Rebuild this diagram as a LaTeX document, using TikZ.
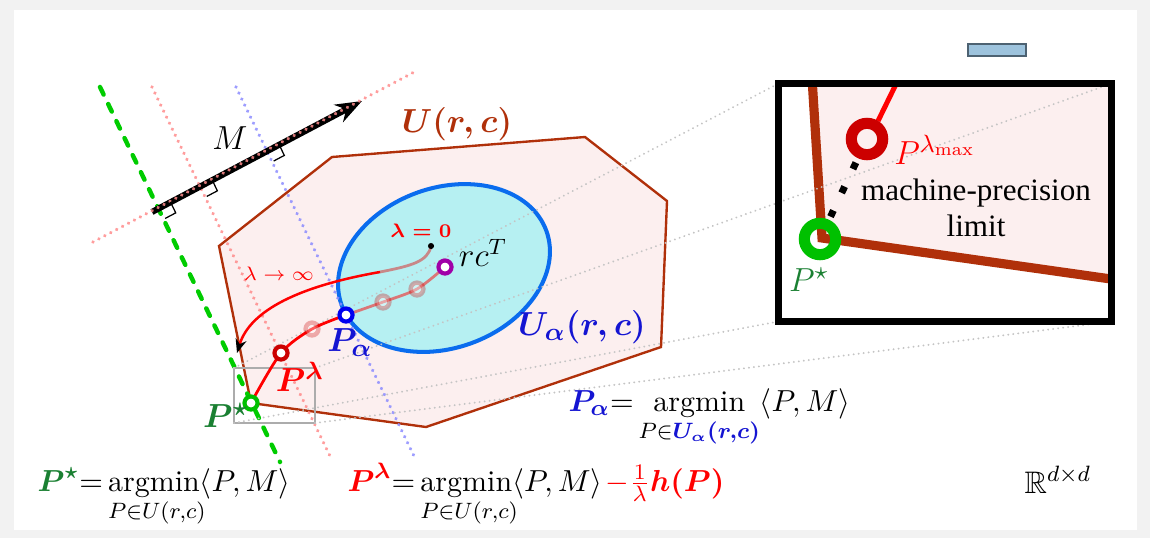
\documentclass[tikz,border=0pt]{standalone}
\usepackage{amsmath,amssymb,mathtools}
\usepackage{fontspec}
\newfontfamily\tnr{Liberation Serif}
\usetikzlibrary{arrows.meta,calc}
\newcommand{\argminl}[1]{\mathop{\mathrm{argmin}}\limits_{\mathrlap{#1}\hphantom{\textstyle\mathrm{argmin}}}}
\definecolor{polyedge}{HTML}{B0300A}
\definecolor{polyfill}{HTML}{FCEFEF}
\definecolor{ellfill}{HTML}{B6F0F2}
\definecolor{elledge}{HTML}{0A6CEE}
\definecolor{dgreen}{HTML}{1A8032}
\definecolor{bgreen}{HTML}{00C000}
\definecolor{dashgreen}{HTML}{00CC00}
\definecolor{dred}{HTML}{CC0000}
\definecolor{lblue}{HTML}{1414D2}
\definecolor{ringblue}{HTML}{0000F0}
\definecolor{purp}{HTML}{A000A8}
\definecolor{boxfill}{HTML}{9DC3DD}
\definecolor{boxedge}{HTML}{4D6272}
\definecolor{bggrey}{HTML}{F2F2F2}
\definecolor{zoomgrey}{HTML}{C4C4C4}
\definecolor{faderd}{HTML}{C88888}
\begin{document}
\begin{tikzpicture}[x=0.36pt,y=-0.36pt,
  pinkdot/.style={draw=red!45, line width=1.3pt, dash pattern=on 0.01pt off 2.4pt, line cap=round, opacity=0.85},
  bluedot/.style={draw=blue!45, line width=1.3pt, dash pattern=on 0.01pt off 2.4pt, line cap=round, opacity=0.85},
  greydot/.style={draw=zoomgrey, line width=0.75pt, dash pattern=on 0.01pt off 1.8pt, line cap=round},
  greendash/.style={draw=dashgreen, line width=1.6pt, dash pattern=on 3pt off 3.8pt, line cap=round},
  ring/.style={circle, draw=#1, line width=1.5pt, fill=white, minimum size=4.7pt, inner sep=0pt},
  fadering/.style={circle, draw=dred, draw opacity=0.3, line width=1.6pt, fill=white, fill opacity=0.35, minimum size=4.6pt, inner sep=0pt},
  bigring/.style={circle, draw=#1, line width=4pt, minimum size=11.3pt, inner sep=0pt},
  dotline/.style={draw=black, line width=2.5pt, dash pattern=on 2.52pt off 7pt, shorten <=9.4pt, shorten >=8.9pt},
  rmark/.style={draw=black, line width=0.45pt},
  lbl/.style={inner sep=0pt, font=\fontsize{12.5}{14}\selectfont},
  frm/.style={inner sep=0pt, anchor=base west, font=\fontsize{10.8}{13}\selectfont},
  smalllbl/.style={inner sep=0pt, text=red, font=\fontsize{7}{8}\selectfont}
]
\useasboundingbox (0,0) rectangle (1150,544);
\fill[bggrey] (0,0) rectangle (1150,538);
\fill[white] (14,10) rectangle (1137,530);
% small tab
\filldraw[fill=boxfill, draw=boxedge, line width=0.9pt] (968,44) rectangle (1026,56);

% ---------- inset content ----------
\coordinate (iTL) at (778.5,83.5);
\coordinate (iTR) at (1111.5,83.5);
\coordinate (iBL) at (778.5,321.5);
\coordinate (iBR) at (1111.5,321.5);
\begin{scope}
  \clip (iTL) rectangle (iBR);
  \fill[white] (iTL) rectangle (iBR);
  \fill[polyfill] (812,78) -- (1118,78) -- (1118,280) -- (822,238) -- cycle;
  \draw[polyedge, line width=3.3pt] (812,78) -- (822,238) -- (1118,280);
  \draw[red, line width=1.8pt] (878,121) -- (899,78);
\end{scope}
\coordinate (ilam) at (867,139);
\coordinate (istar) at (820,239);
\draw[dotline] (ilam) -- (istar);
\node[bigring=dred] (Plmax) at (ilam) {};
\node[bigring=bgreen] (Pstarz) at (istar) {};

% ---------- polygon and ellipse ----------
\filldraw[fill=polyfill, draw=polyedge, line width=0.85pt, line join=miter]
  (219,246) -- (332,157) -- (585,137) -- (667,201) -- (661,347) -- (426,427) -- (251,403) -- cycle;
\filldraw[fill=ellfill, draw=elledge, line width=1.45pt, rotate around={20:(444,268)}]
  (444,268) ellipse [x radius=39.2pt, y radius=28.8pt];

% ---------- level lines ----------
\coordinate (g1) at (100,87);  \coordinate (g2) at (280,462);
\coordinate (r1) at (152,87);  \coordinate (r2) at (330,456);
\coordinate (b1) at (236,87);  \coordinate (b2) at (414,456);
\coordinate (m1) at (93,242);  \coordinate (m2) at (418,70);
\draw[pinkdot] (r1) -- (r2);
\draw[bluedot] (b1) -- (b2);
\draw[greendash] (g1) -- (g2);

% ---------- zoom box and connectors ----------
\coordinate (zTL) at (234,368);
\coordinate (zTR) at (315,368);
\coordinate (zBL) at (234,423);
\coordinate (zBR) at (315,423);
\draw[draw=gray!65, line width=0.7pt] (zTL) rectangle (zBR);
\draw[greydot] (zTL) -- (iTL);
\draw[greydot] (zTR) -- (iTR);
\draw[greydot] (zBL) -- (iBL);
\draw[greydot] (zBR) -- (iBR);
\draw[line width=2.5pt] (iTL) rectangle (iBR);

% ---------- paths ----------
\coordinate (rc) at (445,267);
\coordinate (f1) at (417,289);
\coordinate (f2) at (383,302);
\coordinate (pa) at (346,315);
\coordinate (f3) at (312,329);
\coordinate (pl) at (281,353);
\coordinate (ps) at (251,403);
\coordinate (l0) at (431,246);
\coordinate (lm) at (380,272);
\coordinate (linf) at (237,353);
\draw[red, line width=1pt, opacity=0.5] plot[smooth] coordinates {(rc) (f1) (f2) (pa)};
\draw[red, line width=1pt] plot[smooth] coordinates {(pa) (f3) (pl) (ps)};
\draw[faderd, line width=1pt] (l0) .. controls (428,262) and (410,266) .. (lm);
\draw[red, line width=0.9pt, -{Stealth[black,length=5pt,width=4pt]}] (lm) .. controls (300,286) and (250,310) .. (linf);
\fill (l0) circle[radius=1.1pt];
\node[fadering] (F1) at (f1) {};
\node[fadering] (F2) at (f2) {};
\node[fadering] (F3) at (f3) {};
\node[ring=purp] (RC) at (rc) {};
\node[ring=ringblue] (PA) at (pa) {};
\node[ring=dred] (PL) at (pl) {};
\node[ring=bgreen] (PS) at (ps) {};

% ---------- M arrow and right angles ----------
\coordinate (ms) at (152,212);
\coordinate (me) at (362,101);
\draw[line width=2.2pt, -{Stealth[length=9.5pt,width=7pt]}] (ms) -- (me);
\draw[pinkdot] (m1) -- (m2);
\coordinate (Ig) at (intersection of g1--g2 and m1--m2);
\coordinate (Ir) at (intersection of r1--r2 and m1--m2);
\coordinate (Ib) at (intersection of b1--b2 and m1--m2);
\foreach \I in {Ig,Ir,Ib}{
  \draw[rmark] ($(\I)+(12.6,-5.6)$) -- ++(5.2,10.8) -- ++(-10.6,5.6);
}

% ---------- labels ----------
\node[lbl, text=dgreen] (tPs) at (226,416) {$\boldsymbol{P^{\star}}$};
\node[lbl, text=red] (tPl) at (300,377) {$\boldsymbol{P^{\lambda}}$};
\node[lbl, text=lblue] (tPa) at (350,343) {$\boldsymbol{P_{\alpha}}$};
\node[lbl, text=lblue] (tUa) at (582,327) {$\boldsymbol{U_{\alpha}(r,c)}$};
\node[lbl, text=polyedge] (tU) at (457,124) {$\boldsymbol{U(r,c)}$};
\node[lbl, font=\fontsize{11.5}{13}\selectfont] (tM) at (230,138) {$M$};
\node[lbl, font=\fontsize{11.5}{13}\selectfont] (trc) at (483,253) {$rc^{T}$};
\node[smalllbl] (tl0) at (421,231) {$\boldsymbol{\lambda=0}$};
\node[smalllbl] (tli) at (279,274) {$\lambda\to\infty$};

% inset labels
\node[lbl, text=red, font=\fontsize{13}{15}\selectfont] (tlmax) at (935,150) {$P^{\lambda_{\max}}$};
\node[lbl, text=dgreen] (tPsz) at (809,280) {$P^{\star}$};
\node[inner sep=0pt, align=center, font=\tnr\fontsize{11.2}{13}\selectfont] (mpl) at (976,208) {machine-precision\\limit};

% ---------- formulas ----------
\node[frm] (fstar) at (37,491) {$\displaystyle{\color{dgreen}\boldsymbol{P^{\star}}}{=}\argminl{P\in U(r,c)}\langle P,M\rangle$};
\node[frm] (flam) at (347,491) {$\displaystyle{\color{red}\boldsymbol{P^{\lambda}}}{=}\argminl{P\in U(r,c)}\langle P,M\rangle{\color{red}\mskip2mu{-}\tfrac{1}{\lambda}\boldsymbol{h(P)}}$};
\node[frm] (falp) at (568,411) {$\displaystyle{\color{lblue}\boldsymbol{P_{\alpha}}}{=}\operatorname*{argmin}_{P\in{\color{lblue}\boldsymbol{U_{\alpha}(r,c)}}}\langle P,M\rangle$};
\node[frm, font=\fontsize{11.2}{13}\selectfont] (fR) at (1024,493) {$\mathbb{R}^{d\times d}$};
\end{tikzpicture}
\end{document}
